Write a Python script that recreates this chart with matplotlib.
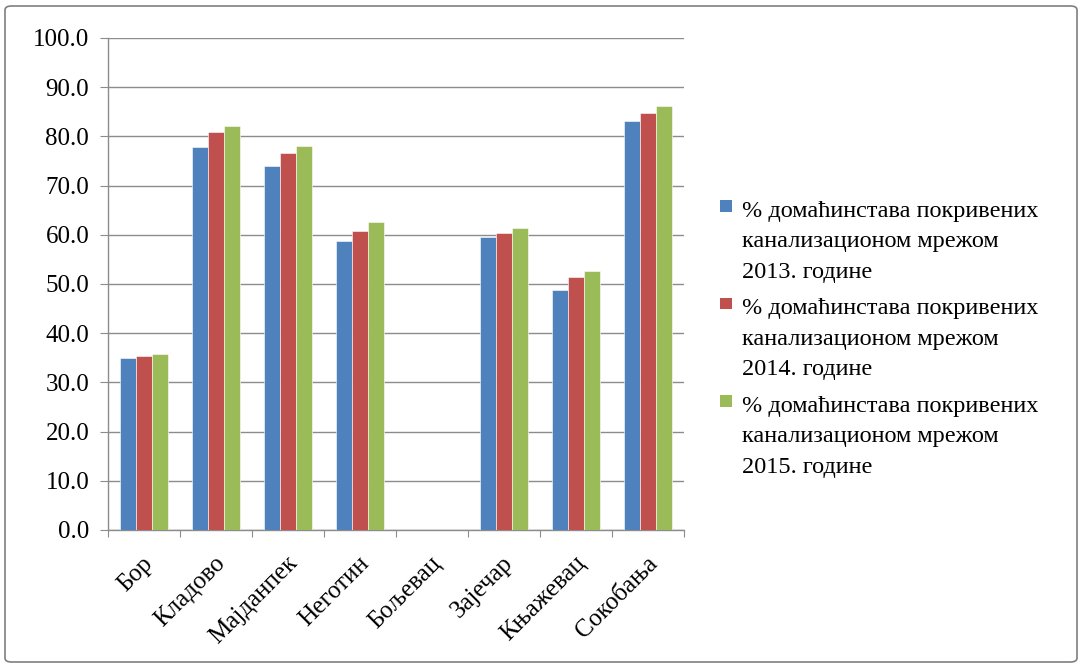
import matplotlib
matplotlib.use("Agg")
import matplotlib.pyplot as plt
import numpy as np
from matplotlib.patches import Patch, FancyBboxPatch, Rectangle
from matplotlib.legend_handler import HandlerBase
from matplotlib.transforms import ScaledTranslation

categories = ["Бор", "Кладово", "Мајданпек", "Неготин", "Бољевац", "Зајечар", "Књажевац", "Сокобања"]
s2013 = [35.0, 77.9, 74.0, 58.7, 0.0, 59.6, 48.8, 83.2]
s2014 = [35.3, 80.8, 76.7, 60.8, 0.0, 60.3, 51.4, 84.7]
s2015 = [35.8, 82.2, 78.0, 62.6, 0.0, 61.3, 52.7, 86.1]
labels = [
    "% домаћинстава покривених\nканализационом мрежом\n2013. године",
    "% домаћинстава покривених\nканализационом мрежом\n2014. године",
    "% домаћинстава покривених\nканализационом мрежом\n2015. године",
]
colors = ["#4F81BD", "#C0504D", "#9BBB59"]
yticks = [0, 10, 20, 30, 40, 50, 60, 70, 80, 90, 100]

plt.rcParams['font.family'] = ['Liberation Serif', 'DejaVu Serif']
FS = 18
LFS = 17.5

W, H = 1083, 666
fig = plt.figure(figsize=(W/100, H/100), dpi=100)
ax = fig.add_axes([108/W, 1-530/H, (684-108)/W, (530-38)/H])

x = np.arange(len(categories))
bw = 0.218
for i, (s, c) in enumerate(zip([s2013, s2014, s2015], colors)):
    ax.bar(x + (i-1)*bw, s, width=bw, color=c, edgecolor='white', linewidth=0.4, zorder=3)

ax.set_xlim(-0.5, len(categories)-0.5)
ax.set_ylim(0, 100)
ax.set_yticks(yticks)
ax.set_yticklabels([f"{v:.1f}" for v in yticks], fontsize=FS)
ax.yaxis.grid(True, color='#8C8C8C', linewidth=1.0, zorder=0)
ax.set_axisbelow(True)
ax.set_xticks(np.arange(-0.5, len(categories), 1.0))
ax.set_xticklabels([])
ax.set_xticks(x, minor=True)
ax.set_xticklabels(categories, minor=True, rotation=45, ha='right', va='top',
                   rotation_mode='anchor', fontsize=FS)
ax.tick_params(axis='x', which='minor', length=0, pad=16)
ax.tick_params(axis='x', which='major', length=5, color='#8C8C8C')
ax.tick_params(axis='y', length=5.5, color='#8C8C8C', pad=8)
off = ScaledTranslation(-2/100, 0, fig.dpi_scale_trans)
for lab in ax.get_xticklabels(minor=True):
    lab.set_transform(lab.get_transform() + off)
for sp in ['top', 'right']:
    ax.spines[sp].set_visible(False)
for sp in ['left', 'bottom']:
    ax.spines[sp].set_color('#8C8C8C')
    ax.spines[sp].set_linewidth(1.0)


class TopSquare(HandlerBase):
    def create_artists(self, legend, orig_handle, xdescent, ydescent, width, height, fontsize, trans):
        s = 0.47 * fontsize
        r = Rectangle((-xdescent + width - s - 0.1 * fontsize, -ydescent + height - s + 0.38 * fontsize), s, s,
                      facecolor=orig_handle.get_facecolor(), edgecolor='none', transform=trans)
        return [r]


handles = [Patch(facecolor=c, edgecolor='none') for c in colors]
leg = fig.legend(handles, labels, loc='upper left', bbox_to_anchor=(710/W, 1-191/H),
                 frameon=False, fontsize=LFS, handlelength=0.6, handleheight=3.9,
                 handletextpad=0.3, labelspacing=0.63, borderaxespad=0,
                 handler_map={Patch: TopSquare()})
for t in leg.get_texts():
    t.set_linespacing(1.6)

frame = FancyBboxPatch((5/W, 4/H), (W-11)/W, (H-10)/H, boxstyle="round,pad=0,rounding_size=0.006",
                       transform=fig.transFigure, fill=False, edgecolor='#7F7F7F', linewidth=1.2)
fig.patches.append(frame)

fig.savefig("out.png", dpi=100, facecolor='white')
